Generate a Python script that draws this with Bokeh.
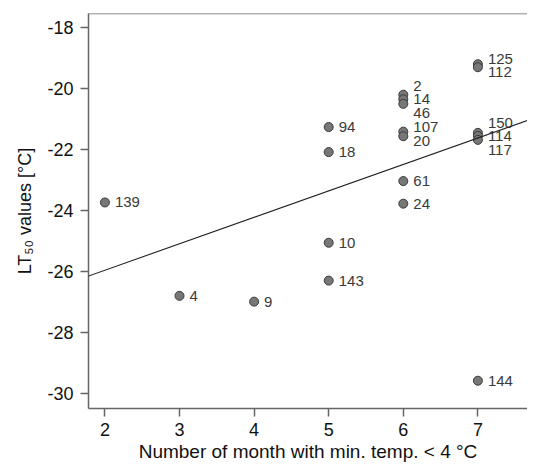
import numpy as np
from bokeh.plotting import figure
from bokeh.models import (ColumnDataSource, Slope, Span, Range1d, FixedTicker,
                          PrintfTickFormatter, Title)
from bokeh.embed import file_html
from bokeh.resources import INLINE

# ---- data ----
ids = ["139", "4", "9", "94", "18", "10", "143", "2", "14", "46", "107", "20", "61", "24",
       "125", "112", "150", "114", "117", "144"]
months = [2, 3, 4, 5, 5, 5, 5, 6, 6, 6, 6, 6, 6, 6, 7, 7, 7, 7, 7, 7]
lt50 = [-23.73, -26.79, -26.98, -21.26, -22.08, -25.05, -26.29, -20.20, -20.35, -20.50,
        -21.41, -21.56, -23.03, -23.77, -19.20, -19.30, -21.45, -21.55, -21.68, -29.57]
x_ticks = [2, 3, 4, 5, 6, 7]
y_ticks = [-30, -28, -26, -24, -22, -20, -18]

FONT = "Liberation Sans"

x_arr = np.array(months, dtype=float)
y_arr = np.array(lt50, dtype=float)

# least squares regression line
slope, intercept = np.polyfit(x_arr, y_arr, 1)

# simple label repel along y within each month group
min_gap = 0.44
label_y = y_arr.copy()
for m in sorted(set(months)):
    idx = [i for i in range(len(months)) if months[i] == m]
    idx.sort(key=lambda i: -y_arr[i])
    pos = [y_arr[i] for i in idx]
    for _ in range(300):
        for k in range(len(pos) - 1):
            gap = pos[k] - pos[k + 1]
            if gap < min_gap:
                push = (min_gap - gap) / 2.0
                pos[k] += push
                pos[k + 1] -= push
    for k, i in enumerate(idx):
        label_y[i] = pos[k]

src = ColumnDataSource(dict(x=x_arr, y=y_arr, ly=label_y, id=ids))

xr = Range1d(1.78, 7.665)
yr = Range1d(-30.48, -17.54)
p = figure(width=527, height=464, output_backend="svg", toolbar_location=None,
           x_range=xr, y_range=yr,
           min_border_left=88, min_border_right=0, min_border_top=13, min_border_bottom=55)
p.outline_line_color = None
p.xgrid.grid_line_color = None
p.ygrid.grid_line_color = None
p.background_fill_color = "white"

p.add_layout(Slope(gradient=slope, y_intercept=intercept, line_color="#222222", line_width=1.1))

p.scatter("x", "y", source=src, size=9, fill_color="#777777", line_color="#3a3a3a", line_width=1)
p.text(x="x", y="ly", text="id", source=src, x_offset=10, text_baseline="middle",
       text_align="left", text_font_size="15px", text_color="#3a3a3a",
       text_font={"value": FONT})

p.add_layout(Span(location=yr.end, dimension="width", line_color="#666666", line_width=1.5))

for ax in (p.xaxis[0], p.yaxis[0]):
    ax.axis_line_color = "#666666"
    ax.axis_line_width = 1.5
    ax.major_tick_line_color = "#666666"
    ax.major_tick_line_width = 1.5
    ax.major_tick_out = 8
    ax.major_tick_in = 0
    ax.minor_tick_out = 0
    ax.minor_tick_in = 0
    ax.major_label_text_font = FONT
    ax.major_label_text_font_size = "18px"
    ax.major_label_text_color = "#111111"
    ax.axis_label_text_font = FONT
    ax.axis_label_text_font_style = "normal"
    ax.axis_label_text_color = "#111111"

p.xaxis[0].axis_label_text_font_size = "19px"
p.xaxis[0].ticker = FixedTicker(ticks=x_ticks)
p.yaxis[0].ticker = FixedTicker(ticks=y_ticks)
p.xaxis[0].formatter = PrintfTickFormatter(format="%d")
p.yaxis[0].formatter = PrintfTickFormatter(format="%d")
p.xaxis[0].axis_label = "Number of month with min. temp. < 4 °C"
p.xaxis[0].major_label_standoff = 6
p.yaxis[0].major_label_standoff = 7
p.xaxis[0].axis_label_standoff = 2

# y-axis title as a left-side title (rotated), shifted slightly down
ytitle = Title(text="LT₅₀ values [°C]", align="center", offset=-6, standoff=19,
               text_font=FONT, text_font_size="18px", text_font_style="normal",
               text_color="#111111")
p.add_layout(ytitle, "left")

open("out.html", "w").write(file_html(p, INLINE))
